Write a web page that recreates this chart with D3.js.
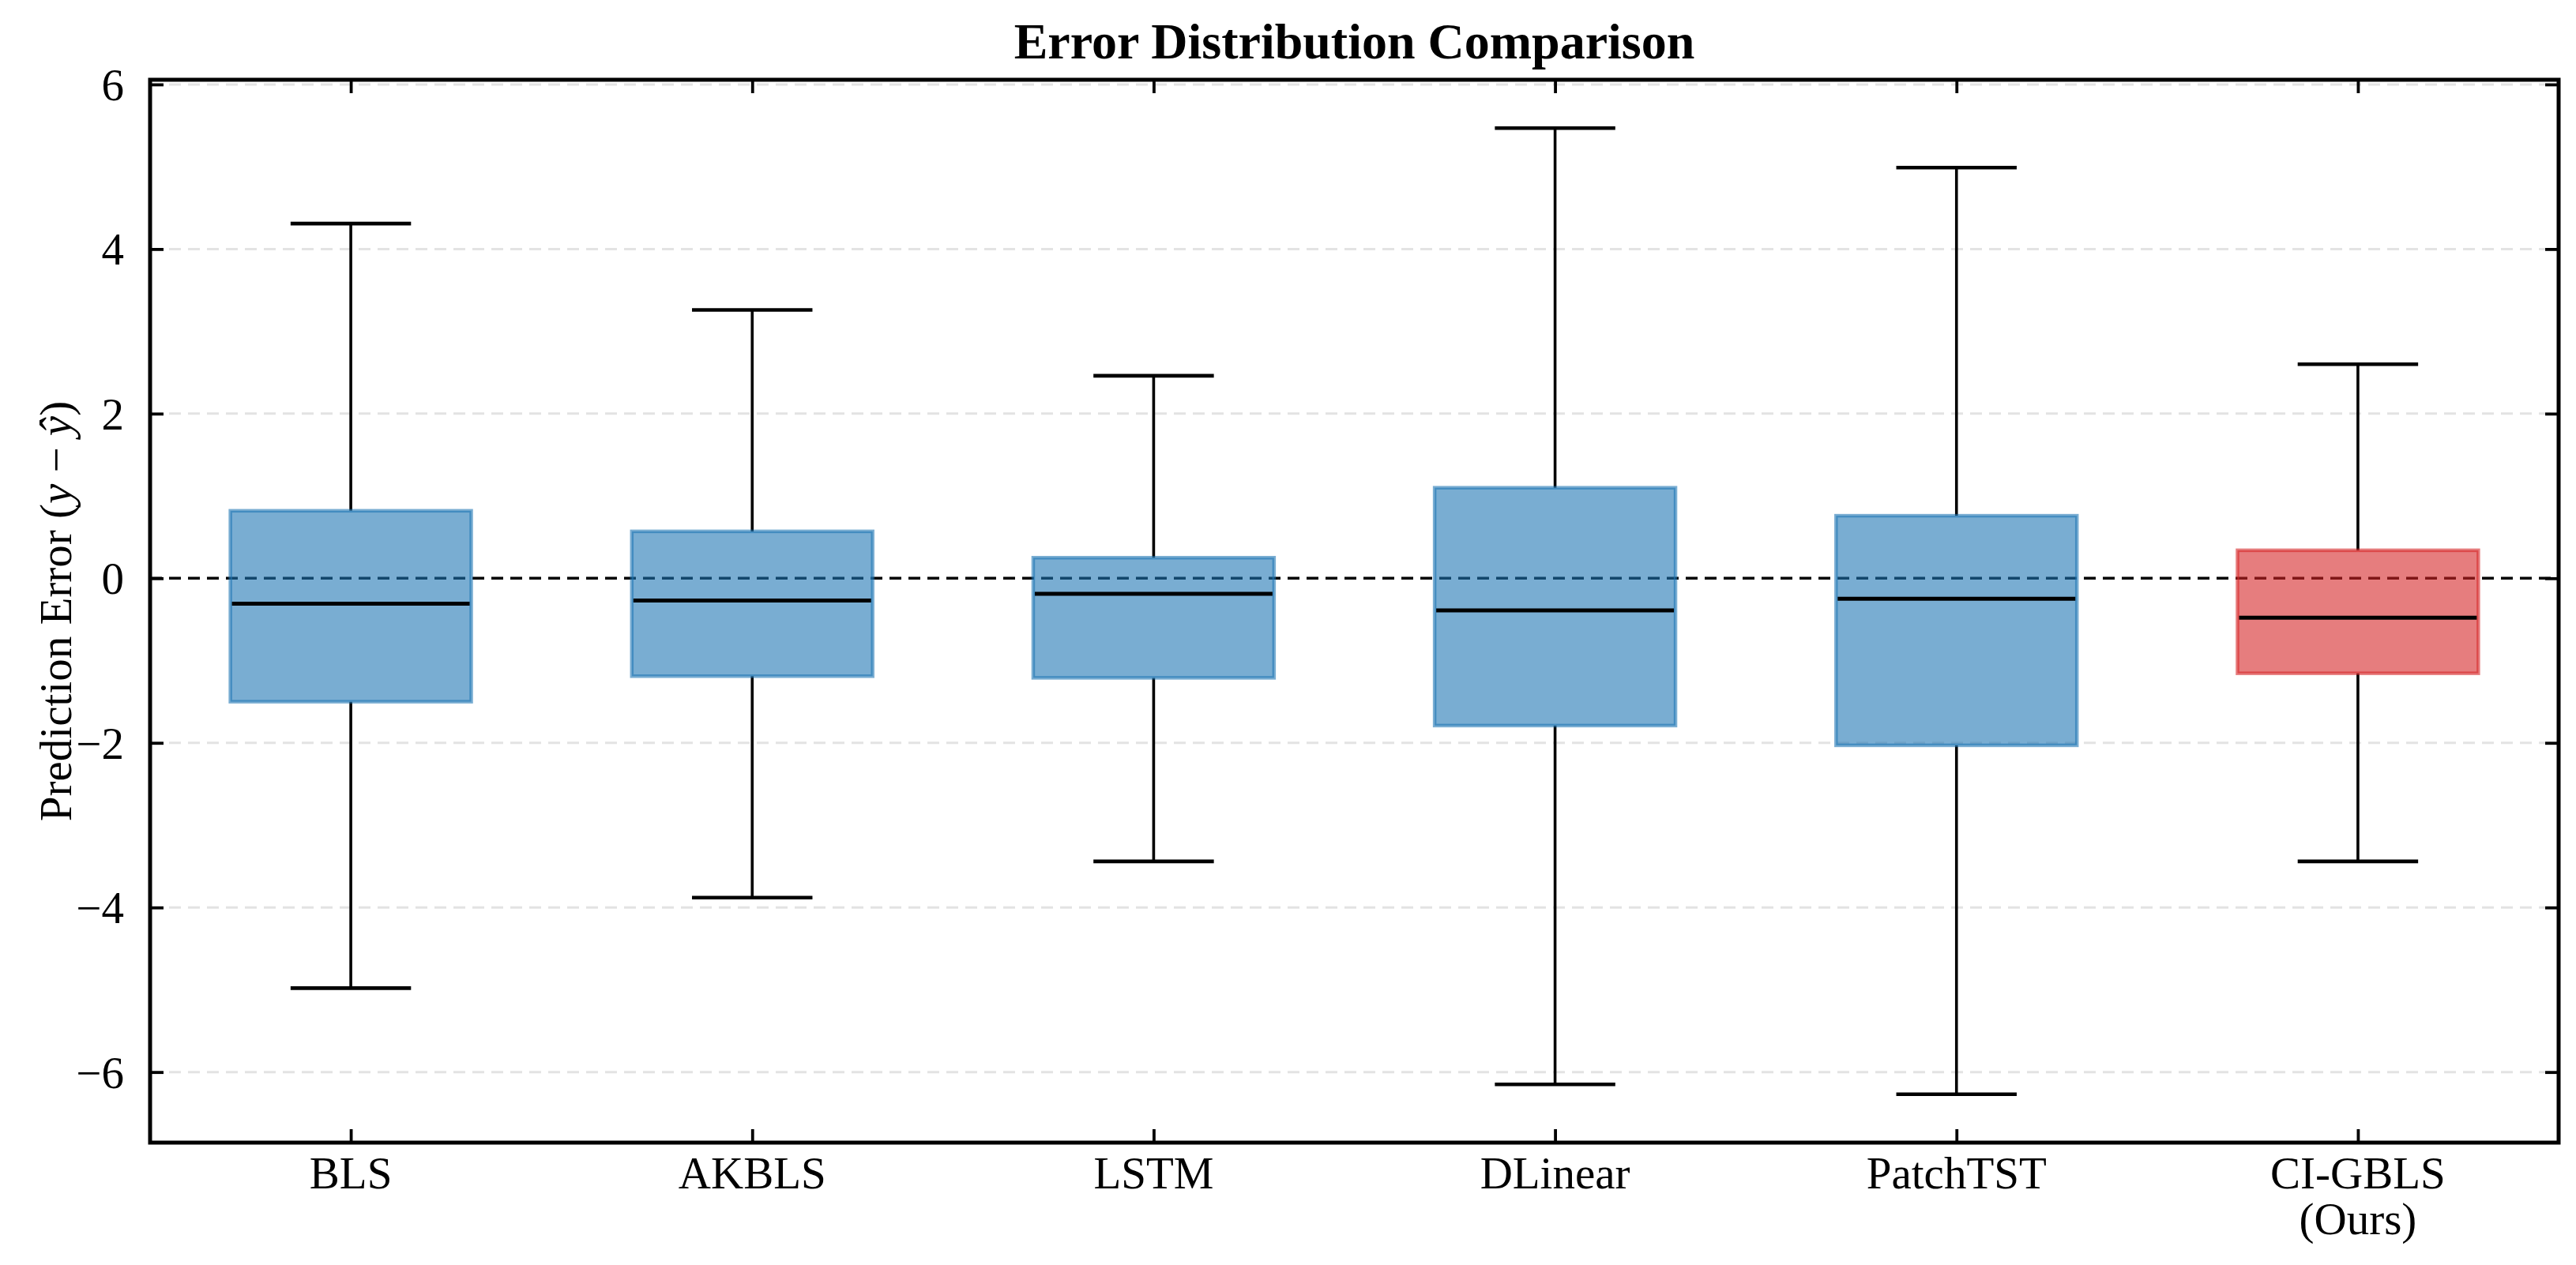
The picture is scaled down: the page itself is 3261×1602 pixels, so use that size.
<!DOCTYPE html>
<html>
<head>
<meta charset="utf-8">
<script src="https://cdn.jsdelivr.net/npm/d3@7"></script>
<style>
  html, body { margin: 0; padding: 0; background: #fff; }
  svg text { font-family: "Liberation Serif", "DejaVu Serif", serif; fill: #000; }
</style>
</head>
<body>
<div id="chart"></div>
<script>
// box-plot stats
const models = ["BLS", "AKBLS", "LSTM", "DLinear", "PatchTST", "CI-GBLS\n(Ours)"];
const whiskerLow  = [-4.98, -3.88, -3.44, -6.15, -6.27, -3.44];
const q1          = [-1.50, -1.19, -1.21, -1.79, -2.03, -1.155];
const medians     = [-0.31, -0.27, -0.19, -0.39, -0.25, -0.48];
const q3          = [0.82, 0.57, 0.25, 1.10, 0.76, 0.34];
const whiskerHigh = [4.31, 3.26, 2.46, 5.47, 4.99, 2.60];
const boxColors   = ["#1f77b4", "#1f77b4", "#1f77b4", "#1f77b4", "#1f77b4", "#d62728"];
const yTicks = [-6, -4, -2, 0, 2, 4, 6];

const width = 3261, height = 1602;
const margin = {top: 101, right: 22, bottom: 155, left: 190};

const svg = d3.select("#chart").append("svg")
    .attr("width", width)
    .attr("height", height);

const x = d3.scaleLinear()
    .domain([0.5, models.length + 0.5])
    .range([margin.left, width - margin.right]);

// matplotlib style 5% padding around the data
const lo = d3.min(whiskerLow), hi = d3.max(whiskerHigh);
const pad = (hi - lo) * 0.05;
const y = d3.scaleLinear()
    .domain([lo - pad, hi + pad])
    .range([height - margin.bottom, margin.top]);

const unit = x(2) - x(1);

// grid
svg.append("g")
    .selectAll("line")
    .data(yTicks)
    .join("line")
    .attr("x1", margin.left)
    .attr("x2", width - margin.right)
    .attr("y1", d => y(d))
    .attr("y2", d => y(d))
    .attr("stroke", "#e3e3e3")
    .attr("stroke-width", 3)
    .attr("stroke-dasharray", "15,9");

// zero line
svg.append("line")
    .attr("x1", margin.left)
    .attr("x2", width - margin.right)
    .attr("y1", y(0))
    .attr("y2", y(0))
    .attr("stroke", "#000")
    .attr("stroke-width", 3.5)
    .attr("stroke-dasharray", "15,9");

const stats = models.map((m, i) => ({
    name: m, pos: i + 1,
    lo: whiskerLow[i], q1: q1[i], med: medians[i], q3: q3[i], hi: whiskerHigh[i],
    color: boxColors[i]
}));

const g = svg.append("g").selectAll("g")
    .data(stats)
    .join("g");

// whiskers
g.append("line")
    .attr("x1", d => x(d.pos)).attr("x2", d => x(d.pos))
    .attr("y1", d => y(d.q3)).attr("y2", d => y(d.hi))
    .attr("stroke", "#000").attr("stroke-width", 3.6);
g.append("line")
    .attr("x1", d => x(d.pos)).attr("x2", d => x(d.pos))
    .attr("y1", d => y(d.q1)).attr("y2", d => y(d.lo))
    .attr("stroke", "#000").attr("stroke-width", 3.6);

// caps
["hi", "lo"].forEach(k => {
    g.append("line")
        .attr("x1", d => x(d.pos - 0.15)).attr("x2", d => x(d.pos + 0.15))
        .attr("y1", d => y(d[k])).attr("y2", d => y(d[k]))
        .attr("stroke", "#000").attr("stroke-width", 4.6);
});

// boxes
g.append("rect")
    .attr("x", d => x(d.pos - 0.3))
    .attr("width", unit * 0.6)
    .attr("y", d => y(d.q3))
    .attr("height", d => y(d.q1) - y(d.q3))
    .attr("fill", d => d.color)
    .attr("fill-opacity", 0.6)
    .attr("stroke", d => d.color)
    .attr("stroke-opacity", 0.6)
    .attr("stroke-width", 4.5);

// medians
g.append("line")
    .attr("x1", d => x(d.pos - 0.3) + 2).attr("x2", d => x(d.pos + 0.3) - 2)
    .attr("y1", d => y(d.med)).attr("y2", d => y(d.med))
    .attr("stroke", "#000").attr("stroke-width", 5);

// axes: ticks pointing inwards on all four sides
const tickLen = 17;
const yAxisL = d3.axisLeft(y).tickValues(yTicks).tickSizeInner(-tickLen).tickSizeOuter(0)
    .tickPadding(tickLen + 16).tickFormat(d => d < 0 ? "\u2212" + Math.abs(d) : d);
const yAxisR = d3.axisRight(y).tickValues(yTicks).tickSizeInner(-tickLen).tickSizeOuter(0).tickFormat("");
const xAxisB = d3.axisBottom(x).tickValues(stats.map(d => d.pos)).tickSizeInner(-tickLen).tickSizeOuter(0).tickFormat("");
const xAxisT = d3.axisTop(x).tickValues(stats.map(d => d.pos)).tickSizeInner(-tickLen).tickSizeOuter(0).tickFormat("");

function styleAxis(sel) {
    sel.select(".domain").remove();
    sel.selectAll(".tick line").attr("stroke", "#000").attr("stroke-width", 3.8);
}

svg.append("g").attr("transform", `translate(${margin.left},0)`).call(yAxisL).call(styleAxis)
    .selectAll(".tick text")
    .style("font-family", '"Liberation Serif", serif')
    .attr("font-size", 57)
    .attr("dy", "0.34em");
svg.append("g").attr("transform", `translate(${width - margin.right},0)`).call(yAxisR).call(styleAxis);
svg.append("g").attr("transform", `translate(0,${height - margin.bottom})`).call(xAxisB).call(styleAxis);
svg.append("g").attr("transform", `translate(0,${margin.top})`).call(xAxisT).call(styleAxis);

// x tick labels (multi-line)
svg.append("g").selectAll("text")
    .data(stats)
    .join("text")
    .attr("text-anchor", "middle")
    .attr("font-size", 57)
    .attr("transform", d => `translate(${x(d.pos)},${height - margin.bottom + 58})`)
    .selectAll("tspan")
    .data(d => d.name.split("\n"))
    .join("tspan")
    .attr("x", 0)
    .attr("dy", (d, i) => i === 0 ? 0 : 58)
    .text(d => d);

// frame
svg.append("rect")
    .attr("x", margin.left)
    .attr("y", margin.top)
    .attr("width", width - margin.left - margin.right)
    .attr("height", height - margin.top - margin.bottom)
    .attr("fill", "none")
    .attr("stroke", "#000")
    .attr("stroke-width", 5);

// title
svg.append("text")
    .attr("x", (margin.left + width - margin.right) / 2)
    .attr("y", 74)
    .attr("text-anchor", "middle")
    .attr("font-size", 64)
    .attr("font-weight", "bold")
    .text("Error Distribution Comparison");

// y label
const yl = svg.append("text")
    .attr("text-anchor", "middle")
    .attr("font-size", 57)
    .attr("transform", `translate(90,${(margin.top + height - margin.bottom) / 2}) rotate(-90)`);
yl.append("tspan").text("Prediction Error (");
yl.append("tspan").attr("font-style", "italic").text("y");
yl.append("tspan").text(" \u2212 ");
yl.append("tspan").attr("font-style", "italic").text("\u0177");
yl.append("tspan").text(")");
</script>
</body>
</html>
